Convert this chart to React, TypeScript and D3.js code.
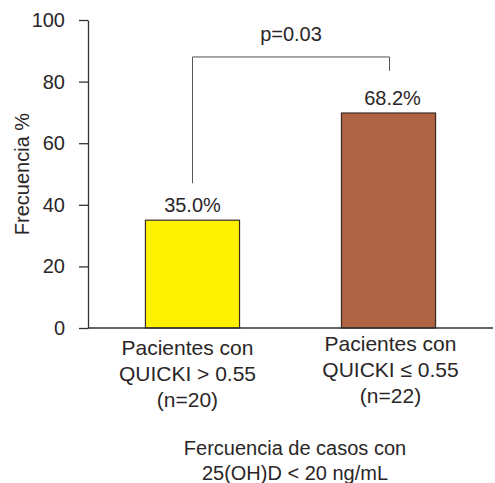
import React, { useRef, useEffect } from "react";
import { select, scaleLinear, scaleBand, axisLeft } from "d3";

// data
const categories = ["g1", "g2"];
const categoryLines = [
  ["Pacientes con", "QUICKI > 0.55", "(n=20)"],
  ["Pacientes con", "QUICKI \u2264 0.55", "(n=22)"],
];
const barValues = [35.0, 69.8];
const valueLabels = ["35.0%", "68.2%"];
const barColors = ["#fff200", "#ae6344"];
const yTicks = [0, 20, 40, 60, 80, 100];
const pLabel = "p=0.03";
const xTitle = ["Fercuencia de casos con", "25(OH)D < 20 ng/mL"];
const yTitle = "Frecuencia %";

const W = 495;
const H = 483;
const FONT = "'Liberation Sans', Arial, Helvetica, sans-serif";
const TEXT = "#2a2627";

function App() {
  const svgRef = useRef<SVGSVGElement>(null);

  useEffect(() => {
    const svg = select(svgRef.current);
    svg.selectAll("*").remove();

    const y = scaleLinear().domain([0, 100]).range([328, 20]);
    const x = scaleBand()
      .domain(categories)
      .range([88, 493])
      .paddingInner(0.52)
      .paddingOuter(0.293);

    // y axis
    const yAxis = svg
      .append("g")
      .attr("transform", "translate(88,0)")
      .call(axisLeft(y).tickValues(yTicks).tickSize(9).tickSizeOuter(0).tickPadding(14));
    yAxis.select(".domain").attr("stroke", "#333").attr("stroke-width", 1.3);
    yAxis.selectAll(".tick line").attr("stroke", "#333").attr("stroke-width", 1.3);
    yAxis
      .selectAll(".tick text")
      .attr("fill", TEXT)
      .attr("font-size", 20)
      .attr("font-family", FONT);

    // bars
    svg
      .selectAll(".bar")
      .data(barValues)
      .join("rect")
      .attr("class", "bar")
      .attr("x", (d, i) => x(categories[i])!)
      .attr("y", (d) => y(d))
      .attr("width", x.bandwidth())
      .attr("height", (d) => y(0) - y(d))
      .attr("fill", (d, i) => barColors[i])
      .attr("stroke", "#3a2a22")
      .attr("stroke-width", 1.2);

    // value labels
    svg
      .selectAll(".vlabel")
      .data(barValues)
      .join("text")
      .attr("class", "vlabel")
      .attr("x", (d, i) => x(categories[i])! + x.bandwidth() / 2 + (i === 1 ? 4 : 0))
      .attr("y", (d) => y(d) - 8)
      .attr("text-anchor", "middle")
      .attr("font-size", 20)
      .attr("font-family", FONT)
      .attr("fill", TEXT)
      .text((d, i) => valueLabels[i]);

    // x axis baseline
    svg
      .append("line")
      .attr("x1", 88)
      .attr("x2", 493)
      .attr("y1", y(0))
      .attr("y2", y(0))
      .attr("stroke", "#333")
      .attr("stroke-width", 1.3);

    // significance bracket
    const c1 = x(categories[0])! + x.bandwidth() / 2;
    const c2 = x(categories[1])! + x.bandwidth() / 2 + 1;
    const top = y(88);
    svg
      .append("path")
      .attr("d", `M${c1},${y(47)}V${top}H${c2}V${y(83.5)}`)
      .attr("fill", "none")
      .attr("stroke", "#555")
      .attr("stroke-width", 1);
    svg
      .append("text")
      .attr("x", (c1 + c2) / 2)
      .attr("y", top - 16)
      .attr("text-anchor", "middle")
      .attr("font-size", 20)
      .attr("font-family", FONT)
      .attr("fill", TEXT)
      .text(pLabel);

    // category labels
    categoryLines.forEach((lines, i) => {
      const cx = x(categories[i])! + x.bandwidth() / 2 + (i === 0 ? -5 : 2);
      const base = i === 0 ? 355 : 351;
      lines.forEach((line, j) => {
        svg
          .append("text")
          .attr("x", cx)
          .attr("y", base + j * 26)
          .attr("text-anchor", "middle")
          .attr("font-size", 21)
          .attr("font-family", FONT)
          .attr("fill", TEXT)
          .text(line);
      });
    });

    // x title
    xTitle.forEach((line, j) => {
      svg
        .append("text")
        .attr("x", 295)
        .attr("y", 455 + j * 25)
        .attr("text-anchor", "middle")
        .attr("font-size", 20)
        .attr("font-family", FONT)
        .attr("fill", TEXT)
        .text(line);
    });

    // y title
    svg
      .append("text")
      .attr("transform", `translate(29,${y(50)}) rotate(-90)`)
      .attr("text-anchor", "middle")
      .attr("font-size", 20)
      .attr("font-family", FONT)
      .attr("fill", TEXT)
      .text(yTitle);
  }, []);

  return (
    <svg
      ref={svgRef}
      width={W}
      height={H}
      style={{ position: "absolute", left: 0, top: 0, background: "#fff" }}
    ></svg>
  );
}

export default App;
